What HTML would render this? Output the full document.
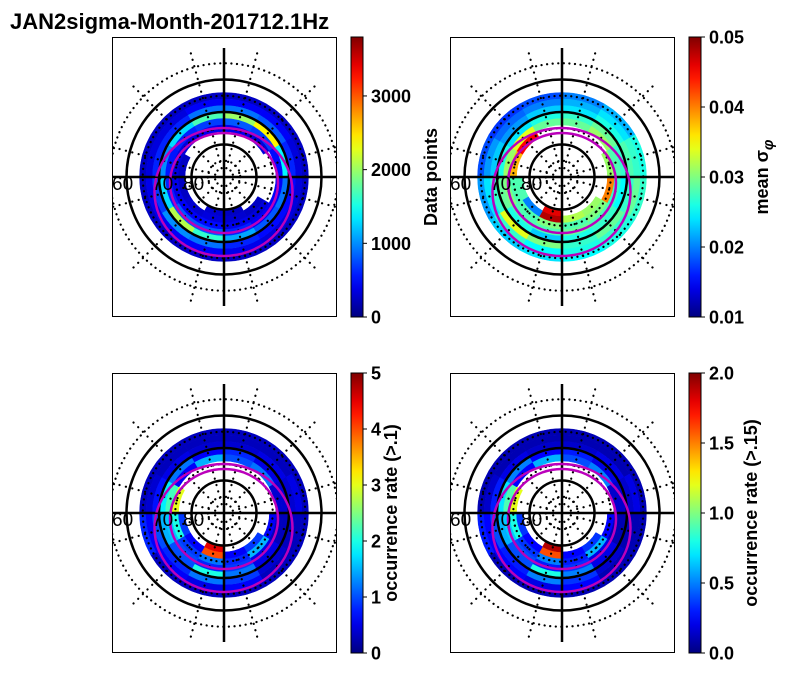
<!DOCTYPE html>
<html><head><meta charset="utf-8"><style>
body{margin:0;background:#fff}
svg{display:block;font-family:"Liberation Sans",sans-serif}
</style></head><body>
<svg id="fig" width="792" height="674" viewBox="0 0 792 674" xmlns="http://www.w3.org/2000/svg">
<text x="10" y="29" font-size="22" font-weight="bold">JAN2sigma-Month-201712.1Hz</text>
</svg>
<script>
// latitude bin edges (outer -> inner), 12 MLT sectors clockwise from top
const latEdges=[64,66,68,70,72,74,76,78,80];
const sectors=12;
const countsData=[
[250,250,250,250,250,250,250,250,250,250,250,250],
[450,450,350,350,350,400,450,450,400,350,350,450],
[900,800,600,500,500,600,900,1000,700,600,600,900],
[2000,2400,1400,900,800,1100,1600,2100,1300,1000,1300,1700],
[800,700,500,450,450,600,800,800,600,550,600,700],
[400,350,0,0,350,400,500,450,400,350,350,400],
[0,0,0,0,250,300,350,300,250,250,0,0],
[0,0,0,0,0,250,300,0,0,0,0,0]];
const sigmaData=[
[0.020,0.022,0.026,0.027,0.026,0.025,0.024,0.023,0.021,0.018,0.017,0.018],
[0.022,0.024,0.027,0.029,0.027,0.026,0.025,0.027,0.024,0.021,0.019,0.020],
[0.024,0.026,0.028,0.027,0.029,0.027,0.030,0.034,0.027,0.023,0.021,0.023],
[0.027,0.029,0.027,0.025,0.027,0.026,0.023,0.026,0.029,0.026,0.024,0.026],
[0.029,0.031,0.028,0.027,0.028,0.029,0.028,0.028,0.030,0.031,0.034,0.029],
[0,0,0.031,0.040,0.030,0.028,0.030,0.028,0.028,0.038,0.045,0],
[0,0,0,0,0.031,0.032,0.048,0.020,0.028,0,0,0],
[0,0,0,0,0,0,0.046,0,0,0,0,0]];
const rate1Data=[
[0.3,0.3,0.3,0.3,0.3,0.3,0.3,0.3,0.8,0.3,0.3,0.3],
[0.3,0.3,0.5,0.3,0.3,0.6,0.5,0.6,0.6,0.4,0.3,0.3],
[0.4,0.5,0.4,0.3,0.4,0.9,1.2,0.8,1.0,0.7,0.5,0.4],
[0.8,0.5,0.4,0.3,0.5,1.2,2.0,1.0,1.5,1.8,1.2,0.6],
[1.0,1.2,0.4,0.3,0.5,0.9,0.8,1.0,1.6,2.2,0.6,1.5],
[0,0,0,0.6,1.5,0.8,1.2,0.9,2.0,3.0,0,0],
[0,0,0,0,0.9,0.6,4.0,0.6,0.9,0,0,0],
[0,0,0,0,0,0,4.5,0,0,0,0,0]];
const rate2Data=[
[0.1,0.1,0.1,0.1,0.1,0.1,0.1,0.1,0.3,0.1,0.1,0.1],
[0.1,0.1,0.2,0.1,0.1,0.25,0.2,0.25,0.25,0.15,0.1,0.1],
[0.15,0.2,0.15,0.1,0.15,0.35,0.5,0.3,0.4,0.3,0.2,0.15],
[0.3,0.2,0.15,0.1,0.2,0.5,0.8,0.4,0.6,0.7,0.5,0.25],
[0.4,0.5,0.15,0.1,0.2,0.35,0.3,0.4,0.65,0.9,0.25,0.6],
[0,0,0,0.25,0.6,0.3,0.5,0.35,0.8,1.2,0,0],
[0,0,0,0,0.35,0.25,1.6,0.25,0.35,0,0,0],
[0,0,0,0,0,0,1.9,0,0,0,0,0]];
const cbar1Ticks=["0","1000","2000","3000"];
const cbar2Ticks=["0.01","0.02","0.03","0.04","0.05"];
const cbar3Ticks=["0","1","2","3","4","5"];
const cbar4Ticks=["0.0","0.5","1.0","1.5","2.0"];
const latLabels=["60","70","80"];

const NS="http://www.w3.org/2000/svg";
const svg=document.getElementById('fig');
function mk(t,a,p){const e=document.createElementNS(NS,t);for(const k in a)e.setAttribute(k,a[k]);(p||svg).appendChild(e);return e;}
function jet(v){v=Math.max(0,Math.min(1,v));
 const f=x=>Math.max(0,Math.min(1,x));
 const r=f(1.5-Math.abs(4*v-3)),g=f(1.5-Math.abs(4*v-2)),b=f(1.5-Math.abs(4*v-1));
 return `rgb(${Math.round(r*255)},${Math.round(g*255)},${Math.round(b*255)})`;}
const rOf=lat=>(90-lat)*3.25;
function pt(cx,cy,r,deg){const a=deg*Math.PI/180;return [cx+r*Math.sin(a),cy-r*Math.cos(a)];}

const panels=[
 {x:112,y:37,data:countsData,min:0,max:3800,ticks:cbar1Ticks,tv:[0,1000,2000,3000],label:"Data points",lx:437,name:"data-points"},
 {x:450,y:37,data:sigmaData,min:0.01,max:0.05,ticks:cbar2Ticks,tv:[0.01,0.02,0.03,0.04,0.05],label:"mean σ",sub:"φ",lx:768,name:"mean-sigma"},
 {x:112,y:373,data:rate1Data,min:0,max:5,ticks:cbar3Ticks,tv:[0,1,2,3,4,5],label:"occurrence rate (>.1)",lx:397,name:"rate-01"},
 {x:450,y:373,data:rate2Data,min:0,max:2,ticks:cbar4Ticks,tv:[0,0.5,1,1.5,2],label:"occurrence rate (>.15)",lx:757,name:"rate-015"}];

const defs=mk('defs',{});
const grad=mk('linearGradient',{id:'jetg',x1:0,y1:1,x2:0,y2:0},defs);
for(let i=0;i<=20;i++)mk('stop',{offset:i/20,'stop-color':jet(i/20)},grad);

panels.forEach((P,pi)=>{
 const W=225,H=280,cx=P.x+112,cy=P.y+140;
 const cp=mk('clipPath',{id:'cp'+pi},defs);mk('rect',{x:P.x,y:P.y,width:W,height:H},cp);
 const g=mk('g',{'clip-path':`url(#cp${pi})`});
 
 P.data.forEach((row,ri)=>{
  const r1=rOf(latEdges[ri]),r2=rOf(latEdges[ri+1]);
  row.forEach((v,ci)=>{
   if(!v)return;
   const a1=ci*360/sectors,a2=(ci+1)*360/sectors;
   const p1=pt(cx,cy,r1,a1),p2=pt(cx,cy,r1,a2),p3=pt(cx,cy,r2,a2),p4=pt(cx,cy,r2,a1);
   const c=jet((v-P.min)/(P.max-P.min));
   const e=mk('path',{d:`M${p1}A${r1},${r1} 0 0 1 ${p2}L${p3}A${r2},${r2} 0 0 0 ${p4}Z`,fill:c,stroke:c,'stroke-width':0.5},g);
   
   
  });
 });
 // dotted grid
 [55,65,75,85].forEach(l=>mk('circle',{cx,cy,r:rOf(l),fill:'none',stroke:'#000','stroke-width':2.2,'stroke-dasharray':'0.1 5.5','stroke-linecap':'round'},g));
 for(let k=0;k<12;k++){const a=15+30*k;const p=pt(cx,cy,128,a),q=pt(cx,cy,8,a);
  mk('line',{x1:p[0],y1:p[1],x2:q[0],y2:q[1],stroke:'#000','stroke-width':2.2,'stroke-dasharray':'0.1 6.5','stroke-linecap':'round'},g);}
 [60,70,80].forEach(l=>mk('circle',{cx,cy,r:rOf(l),fill:'none',stroke:'#000','stroke-width':2.5},g));
 mk('line',{x1:cx,y1:cy-129,x2:cx,y2:cy+129,stroke:'#000','stroke-width':2.5},g);
 mk('line',{x1:P.x,y1:cy,x2:P.x+W,y2:cy,stroke:'#000','stroke-width':2.5},g);
 mk('ellipse',{cx:cx-0.5,cy:cy+15,rx:69,ry:64,fill:'none',stroke:'#b0b','stroke-width':2.5},g);
 mk('ellipse',{cx:cx,cy:cy+6,rx:54,ry:50,fill:'none',stroke:'#b0b','stroke-width':2.5},g);
 const offs=[0,40,71];
 latLabels.forEach((t,i)=>{const e=mk('text',{x:P.x+offs[i],y:cy+13,'font-size':19},g);e.textContent=t;
  });
 const box=mk('rect',{x:P.x+0.5,y:P.y+0.5,width:W-1,height:H-1,fill:'none',stroke:'#000','stroke-width':1});
 
 const bx=P.x+239,bw=12;
 const cb=mk('rect',{x:bx,y:P.y,width:bw,height:H,fill:'url(#jetg)',stroke:'#000','stroke-width':1});
 
 P.tv.forEach((v,i)=>{const y=P.y+H-(v-P.min)/(P.max-P.min)*H;
  mk('line',{x1:bx+bw,y1:y,x2:bx+bw+4,y2:y,stroke:'#000','stroke-width':1});
  const t=mk('text',{x:bx+bw+8,y:y+6.5,'font-size':18,'font-weight':'bold'});t.textContent=P.ticks[i];
  });
 const lt=mk('text',{x:P.lx,y:cy,'font-size':18,'font-weight':'bold','text-anchor':'middle',transform:`rotate(-90 ${P.lx} ${cy})`});
 lt.textContent=P.label;
 if(P.sub){const s=mk('tspan',{'font-style':'italic','font-size':15,dy:5},lt);s.textContent=P.sub;}
 
});
</script>
</body></html>
